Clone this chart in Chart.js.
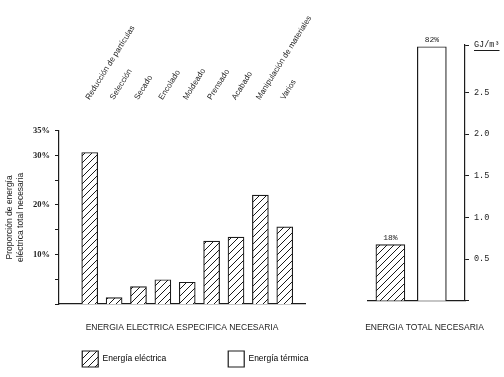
<!DOCTYPE html>
<html>
<head>
<meta charset="utf-8">
<script src="https://cdn.jsdelivr.net/npm/chart.js@4/dist/chart.umd.min.js"></script>
<style>
  html, body { margin: 0; padding: 0; background: #fff; }
  #wrap { position: relative; width: 504px; height: 377px; }
  #left { position: absolute; left: 0; top: 0; }
  #right { position: absolute; left: 345px; top: 0; }
</style>
</head>
<body>
<div id="wrap">
  <canvas id="left" width="335" height="377"></canvas>
  <canvas id="right" width="159" height="377"></canvas>
</div>
<script>
// stages of the process and their share of the electric energy (%)
const stages = ['Reducción de partículas', 'Selección', 'Secado', 'Encolado', 'Moldeado',
  'Prensado', 'Acabado', 'Manipulación de materiales', 'Varios'];
const stageShare = [30.6, 1.3, 3.5, 4.9, 4.4, 12.7, 13.5, 22.0, 15.6];
const shareTicks = [10, 20, 30, 35];

// total energy needed, GJ/m3
const energyKinds = ['Energía eléctrica', 'Energía térmica'];
const totalEnergy = [0.66, 2.98];
const totalShare = ['18%', '82%'];

const ink = '#1c1c1c';
Chart.defaults.font.family = 'Liberation Sans';
Chart.defaults.color = ink;

function makeHatch(canvasId) {
  const c = document.createElement('canvas');
  c.width = 7; c.height = 7;
  const g = c.getContext('2d');
  g.fillStyle = '#fff';
  g.fillRect(0, 0, 7, 7);
  g.strokeStyle = '#000';
  g.lineWidth = 0.9;
  g.beginPath();
  g.moveTo(0, 7); g.lineTo(7, 0);
  g.moveTo(-1, 1); g.lineTo(1, -1);
  g.moveTo(6, 8); g.lineTo(8, 6);
  g.stroke();
  return document.getElementById(canvasId).getContext('2d').createPattern(c, 'repeat');
}
const hatchLeft = makeHatch('left');
const hatchRight = makeHatch('right');

// legend text is padded so the two items sit where they are in the figure
const legendFont = { family: 'Liberation Sans', size: 8.5 };
const meas = document.createElement('canvas').getContext('2d');
meas.font = legendFont.size + 'px "Liberation Sans"';
function padText(t, w) {
  while (meas.measureText(t + ' ').width <= w) t += ' ';
  return t;
}

// empty axis used only to hold space at one side of a chart
const spacer = w => ({
  type: 'linear', display: true,
  ticks: { display: false }, grid: { display: false }, border: { display: false },
  afterFit: s => { s.width = w; }
});

new Chart(document.getElementById('left'), {
  type: 'bar',
  data: {
    datasets: [{
      label: energyKinds[0],
      data: stageShare.map((v, i) => ({ x: i, y: v })),
      backgroundColor: hatchLeft,
      borderColor: ink,
      borderWidth: 1.2,
      barThickness: 16
    }]
  },
  options: {
    responsive: false,
    animation: false,
    devicePixelRatio: 1,
    scales: {
      x: {
        type: 'linear', position: 'bottom', min: -1.26, max: 8.83, offset: false,
        ticks: { display: false },
        grid: { display: false, drawTicks: false, offset: false },
        border: { color: ink, width: 1.2 },
        title: {
          display: true, text: 'ENERGIA ELECTRICA ESPECIFICA NECESARIA',
          font: { size: 8.5 }, padding: { top: 0, bottom: 8 }
        },
        afterFit: s => { s.height = 37; }
      },
      xt: {
        type: 'linear', position: 'top', min: -1.26, max: 8.83, offset: false,
        grid: { display: false, drawTicks: false, offset: false },
        border: { display: false },
        afterBuildTicks: s => { s.ticks = stages.map((_, i) => ({ value: i })); },
        ticks: {
          autoSkip: false, minRotation: 58, maxRotation: 58, padding: 29, labelOffset: 6,
          font: { size: 8 },
          callback: v => stages[v]
        },
        afterFit: s => { s.height = 130.7; }
      },
      gap: { ...spacer(30), position: 'right' },
      y: {
        min: 0, max: 35,
        ticks: {
          stepSize: 5, padding: 5,
          font: { family: 'Liberation Serif', size: 8.5, weight: 'bold' },
          callback: v => shareTicks.includes(v) ? v + '%' : ''
        },
        grid: { drawOnChartArea: false, tickLength: 4, color: ink, lineWidth: 1 },
        border: { color: ink, width: 1.2 },
        title: {
          display: true, text: ['Proporción de energía', 'eléctrica total necesaria'],
          font: { size: 8.5 }, padding: { top: 5, bottom: 0 }
        },
        afterFit: s => { s.width = 59; }
      }
    },
    plugins: {
      tooltip: { enabled: false },
      legend: {
        position: 'bottom', align: 'end',
        labels: {
          boxWidth: 16, boxHeight: 16, padding: 10, font: legendFont,
          generateLabels: () => [
            { text: padText(energyKinds[0], 116.75), fillStyle: hatchLeft, strokeStyle: ink, lineWidth: 1.2, hidden: false, datasetIndex: 0 },
            { text: padText(energyKinds[1], 76.75), fillStyle: '#fff', strokeStyle: ink, lineWidth: 1.2, hidden: false }
          ]
        }
      }
    }
  }
});

const shareLabels = {
  id: 'shareLabels',
  afterDatasetsDraw(chart) {
    const { ctx } = chart;
    const meta = chart.getDatasetMeta(0);
    ctx.save();
    ctx.font = '8px "Liberation Mono"';
    ctx.fillStyle = ink;
    ctx.textAlign = 'center';
    ctx.textBaseline = 'bottom';
    meta.data.forEach((bar, i) => ctx.fillText(totalShare[i], bar.x, bar.y - 3));
    ctx.restore();
  }
};

// short rule under the unit label at the top of the GJ axis
const unitRule = {
  id: 'unitRule',
  afterDraw(chart) {
    const s = chart.scales.y;
    const { ctx } = chart;
    const last = s.ticks[s.ticks.length - 1];
    ctx.save();
    ctx.font = '8.5px "Liberation Mono"';
    const x0 = s.left + 4 + 5;
    const w = ctx.measureText(last.label).width;
    const y0 = Math.round(s.getPixelForValue(last.value)) + 5.5;
    ctx.strokeStyle = ink;
    ctx.lineWidth = 1;
    ctx.beginPath();
    ctx.moveTo(x0, y0);
    ctx.lineTo(x0 + w, y0);
    ctx.stroke();
    ctx.restore();
  }
};

new Chart(document.getElementById('right'), {
  type: 'bar',
  data: {
    datasets: [{
      label: 'GJ/m³',
      data: totalEnergy.map((v, i) => ({ x: i, y: v })),
      backgroundColor: [hatchRight, '#ffffff'],
      borderColor: ink,
      borderWidth: 1.2,
      barThickness: 29
    }]
  },
  options: {
    responsive: false,
    animation: false,
    devicePixelRatio: 1,
    layout: { padding: { top: 45 } },
    scales: {
      x: {
        type: 'linear', min: -0.54, max: 1.8, offset: false,
        ticks: { display: false },
        grid: { display: false, drawTicks: false, offset: false },
        border: { color: ink, width: 1.2 },
        afterFit: s => { s.height = 20; }
      },
      gap: { ...spacer(23), position: 'left' },
      y: {
        position: 'right', min: 0, max: 3.07,
        ticks: {
          stepSize: 0.5, padding: 5,
          font: { family: 'Liberation Mono', size: 8.5 },
          callback: (v, i, t) => i === t.length - 1 ? 'GJ/m³' : (v > 0 ? v.toFixed(1) : '')
        },
        grid: { drawOnChartArea: false, tickLength: 4, color: ink, lineWidth: 1 },
        border: { color: ink, width: 1.2 },
        afterFit: s => { s.width = 39; }
      }
    },
    plugins: {
      legend: { display: false },
      tooltip: { enabled: false },
      title: {
        display: true, position: 'bottom', text: 'ENERGIA TOTAL NECESARIA',
        font: { size: 8.5, weight: 'normal' }, color: ink,
        padding: { top: 2, bottom: 44 }
      }
    }
  },
  plugins: [shareLabels, unitRule]
});
</script>
</body>
</html>
